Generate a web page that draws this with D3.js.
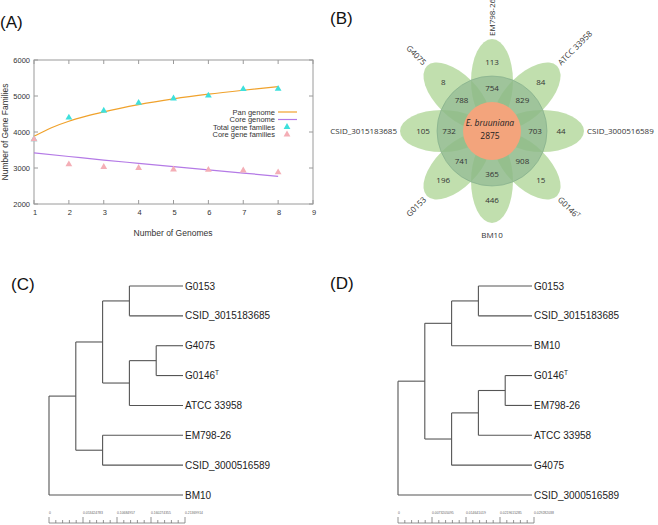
<!DOCTYPE html>
<html><head><meta charset="utf-8">
<script src="https://cdn.jsdelivr.net/npm/d3@7"></script>
<style>body{margin:0;background:#fff} svg{display:block;background:#fff}</style>
</head><body><svg id="c" width="658" height="525"></svg>
<script>
// ---------- Panel A data ----------
const genomes = [1,2,3,4,5,6,7,8];
const totalFamilies = [3800,4400,4590,4810,4930,5010,5190,5200];
const coreFamilies = [3800,3100,3030,3000,2960,2950,2930,2880];
const panCurveX = [1,1.5,2,2.5,3,4,5,6,7,8];
const panCurveY = [3880,4120,4300,4440,4560,4760,4920,5050,5160,5260];
const coreCurveX = [1,2,3,4,5,6,7,8];
const coreCurveY = [3420,3320,3220,3130,3040,2950,2860,2770];
const xTicks = [1,2,3,4,5,6,7,8,9];
const yTicks = [2000,3000,4000,5000,6000];
const legendLabels = ["Pan genome","Core genome","Total gene families","Core gene families"];

// ---------- Panel B data ----------
const strains = ["EM798-26","ATCC 33958","CSID_3000516589","G0146T","BM10","G0153","CSID_3015183685","G4075"];
const uniqueGenes = [113,84,44,15,446,196,105,8];
const sharedGenes = [754,829,703,908,365,741,732,788];
const coreGenes = 2875;
const speciesName = "E. bruuniana";

// ---------- Panels C/D data ----------
const treeC = [[[["G0153","CSID_3015183685"],[["G4075","G0146T"],"ATCC 33958"]],["EM798-26","CSID_3000516589"]],"BM10"];
const treeD = [[[["G0153","CSID_3015183685"],"BM10"],[[["G0146T","EM798-26"],"ATCC 33958"],"G4075"]],"CSID_3000516589"];
const scaleC = ["0","0.053424783","0.10684957","0.160274355","0.21369914"];
const scaleD = ["0","0.0073205095","0.014641019","0.0219615285","0.029282038"];
const panelLabels = ["(A)","(B)","(C)","(D)"];

const svg = d3.select("#c");
svg.append("rect").attr("width",658).attr("height",525).attr("fill","#fff");

// panel labels
const plPos = [[0,28],[330,24],[11,290],[330,289]];
panelLabels.forEach((t,i)=>svg.append("text").attr("x",plPos[i][0]).attr("y",plPos[i][1])
  .attr("font-family","Liberation Sans, Arial, sans-serif").attr("font-size",17).attr("fill","#111").text(t));

// ---------- Panel A ----------
(function(){
  const x = d3.scaleLinear().domain([1,9]).range([34,313]);
  const y = d3.scaleLinear().domain([2000,6000]).range([204,60]);
  const g = svg.append("g");
  const font = "Liberation Sans, Arial, sans-serif";
  g.append("rect").attr("x",34).attr("y",60).attr("width",279).attr("height",144)
    .attr("fill","none").attr("stroke","#9a9a9a").attr("stroke-width",1);
  xTicks.forEach(t=>{
    g.append("line").attr("x1",x(t)).attr("x2",x(t)).attr("y1",204).attr("y2",200).attr("stroke","#9a9a9a");
    g.append("line").attr("x1",x(t)).attr("x2",x(t)).attr("y1",60).attr("y2",64).attr("stroke","#9a9a9a");
    g.append("text").attr("x",x(t)+1).attr("y",215).attr("text-anchor","middle")
      .attr("font-family",font).attr("font-size",7.5).attr("fill","#333").text(t);
  });
  yTicks.forEach(t=>{
    g.append("line").attr("x1",34).attr("x2",38).attr("y1",y(t)).attr("y2",y(t)).attr("stroke","#9a9a9a");
    g.append("line").attr("x1",313).attr("x2",309).attr("y1",y(t)).attr("y2",y(t)).attr("stroke","#9a9a9a");
    g.append("text").attr("x",30).attr("y",y(t)+2.5).attr("text-anchor","end")
      .attr("font-family",font).attr("font-size",7.5).attr("fill","#333").text(t);
  });
  g.append("text").attr("transform","translate(8,132) rotate(-90)").attr("text-anchor","middle")
    .attr("font-family",font).attr("font-size",8.5).attr("fill","#333").text("Number of Gene Families");
  g.append("text").attr("x",173).attr("y",236).attr("text-anchor","middle")
    .attr("font-family",font).attr("font-size",8.5).attr("fill","#333").text("Number of Genomes");

  const line = d3.line().x(d=>x(d[0])).y(d=>y(d[1])).curve(d3.curveMonotoneX);
  g.append("path").attr("d",line(panCurveX.map((v,i)=>[v,panCurveY[i]])))
    .attr("fill","none").attr("stroke","#f0a22c").attr("stroke-width",1.2);
  g.append("path").attr("d",line(coreCurveX.map((v,i)=>[v,coreCurveY[i]])))
    .attr("fill","none").attr("stroke","#b47ae6").attr("stroke-width",1.2);
  const tri = d3.symbol(d3.symbolTriangle).size(20);
  genomes.forEach((n,i)=>{
    g.append("path").attr("d",tri()).attr("transform",`translate(${x(n)},${y(totalFamilies[i])})`).attr("fill","#3ee0dc");
  });
  genomes.forEach((n,i)=>{
    g.append("path").attr("d",tri()).attr("transform",`translate(${x(n)},${y(coreFamilies[i])})`).attr("fill","#f4aeb6");
  });
  // legend
  const ly = [112,119.5,127,134.5];
  legendLabels.forEach((t,i)=>{
    g.append("text").attr("x",275).attr("y",ly[i]+2.5).attr("text-anchor","end")
      .attr("font-family",font).attr("font-size",7.5).attr("fill","#333").text(t);
  });
  g.append("line").attr("x1",278).attr("x2",297).attr("y1",ly[0]).attr("y2",ly[0]).attr("stroke","#f0a22c").attr("stroke-width",1.2);
  g.append("line").attr("x1",278).attr("x2",297).attr("y1",ly[1]).attr("y2",ly[1]).attr("stroke","#b47ae6").attr("stroke-width",1.2);
  g.append("path").attr("d",tri()).attr("transform",`translate(287,${ly[2]})`).attr("fill","#3ee0dc");
  g.append("path").attr("d",tri()).attr("transform",`translate(287,${ly[3]})`).attr("fill","#f4aeb6");
})();

// ---------- Panel B ----------
(function(){
  const cx = 492, cy = 131;
  const font = "Open Sans, Noto Sans, sans-serif";
  const g = svg.append("g");
  const angle = d3.scaleLinear().domain([0,strains.length]).range([0,360]);
  const rad = d => d*Math.PI/180;
  strains.forEach((s,i)=>{
    const a = angle(i);
    g.append("ellipse").attr("cx",0).attr("cy",-50).attr("rx",21).attr("ry",42)
      .attr("transform",`translate(${cx},${cy}) rotate(${a})`)
      .attr("fill","#a9d28f").attr("fill-opacity",0.72);
  });
  g.append("circle").attr("cx",cx).attr("cy",cy).attr("r",55).attr("fill","#6f9f80").attr("fill-opacity",0.42)
    .attr("stroke","#7faa88").attr("stroke-opacity",0.6);
  g.append("circle").attr("cx",cx).attr("cy",cy).attr("r",29).attr("fill","#f3a47c");
  strains.forEach((s,i)=>{
    const a = angle(i), dx = Math.sin(rad(a)), dy = -Math.cos(rad(a));
    g.append("text").attr("x",cx+dx*69).attr("y",cy+dy*69).attr("dy","0.35em").attr("text-anchor","middle")
      .attr("font-family",font).attr("font-size",8).attr("fill","#333").text(uniqueGenes[i]);
    g.append("text").attr("x",cx+dx*43).attr("y",cy+dy*43).attr("dy","0.35em").attr("text-anchor","middle")
      .attr("font-family",font).attr("font-size",8).attr("fill","#333").text(sharedGenes[i]);
    // outer labels
    let t;
    const name = s.endsWith("T") && s.startsWith("G0146") ? s.slice(0,-1) : s;
    const sup = name !== s;
    if (a === 180) {
      t = g.append("text").attr("x",cx).attr("y",cy+104).attr("dy","0.35em").attr("text-anchor","middle");
    } else {
      const r = 95;
      const rot = a < 180 ? a-90 : a-270;
      t = g.append("text").attr("transform",`translate(${cx+dx*r},${cy+dy*r}) rotate(${rot})`)
        .attr("dy","0.35em").attr("text-anchor", a < 180 ? "start" : "end");
    }
    t.attr("font-family",font).attr("font-size",8).attr("fill","#333").text(name);
    if (sup) t.append("tspan").attr("font-size",5.5).attr("dy","-3").text("T");
  });
  g.append("text").attr("x",cx-2).attr("y",cy-5).attr("text-anchor","middle").attr("font-style","italic")
    .attr("font-family",font).attr("font-size",8.5).attr("fill","#222").text(speciesName);
  g.append("text").attr("x",cx-2).attr("y",cy+8).attr("text-anchor","middle")
    .attr("font-family",font).attr("font-size",8.5).attr("fill","#222").text(coreGenes);
})();

// ---------- Trees ----------
function drawTree(data, x0, x1, labels){
  const g = svg.append("g");
  const root = d3.hierarchy(data, d => Array.isArray(d) ? d : null);
  const leaves = root.leaves();
  const xs = d3.scaleLinear().domain([0,5]).range([x0,x1]);
  const ys = d3.scaleLinear().domain([0,leaves.length-1]).range([286,495]);
  leaves.forEach((l,i)=>{ l.py = ys(i); });
  root.eachAfter(n=>{
    n.px = n.children ? xs(n.depth) : xs(5);
    if (n.children) n.py = d3.mean(n.children, c=>c.py);
  });
  const stroke = "#555";
  root.each(n=>{
    if (n.children){
      const ext = d3.extent(n.children, c=>c.py);
      g.append("line").attr("x1",n.px).attr("x2",n.px).attr("y1",ext[0]).attr("y2",ext[1]).attr("stroke",stroke).attr("stroke-width",1.1);
      n.children.forEach(c=>{
        g.append("line").attr("x1",n.px).attr("x2",c.px).attr("y1",c.py).attr("y2",c.py).attr("stroke",stroke).attr("stroke-width",1.1);
      });
    } else {
      const s = n.data;
      const sup = s === "G0146T";
      const t = g.append("text").attr("x",n.px+2).attr("y",n.py).attr("dy","0.36em")
        .attr("font-family","Liberation Sans, Arial, sans-serif").attr("font-size",10).attr("fill","#222")
        .text(sup ? "G0146" : s);
      if (sup) t.append("tspan").attr("font-size",6.5).attr("dy","-4").text("T");
    }
  });
  // scale bar
  const bx = d3.scaleLinear().domain([0,20]).range([x0, x0+136]);
  const base = 523;
  g.append("line").attr("x1",bx(0)).attr("x2",bx(20)).attr("y1",base).attr("y2",base).attr("stroke","#777").attr("stroke-width",0.8);
  d3.range(21).forEach(k=>{
    const h = k%5===0 ? 6 : 3;
    g.append("line").attr("x1",bx(k)).attr("x2",bx(k)).attr("y1",base).attr("y2",base-h).attr("stroke","#777").attr("stroke-width",0.8);
  });
  labels.forEach((t,k)=>{
    g.append("text").attr("x",bx(k*5)).attr("y",514).attr("font-family","Liberation Sans, Arial, sans-serif")
      .attr("font-size",3.4).attr("fill","#666").text(t);
  });
}
drawTree(treeC, 49, 183, scaleC);
drawTree(treeD, 398, 532, scaleD);
</script></body></html>
